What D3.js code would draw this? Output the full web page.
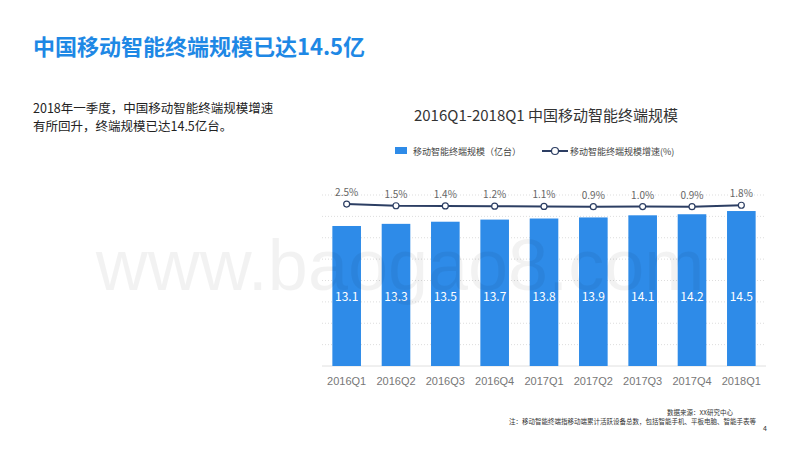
<!DOCTYPE html>
<html><head><meta charset="utf-8">
<script src="https://cdn.jsdelivr.net/npm/d3@7"></script>
<style>body{margin:0;background:#fff}svg{font-family:"Microsoft YaHei","Noto Sans CJK SC",sans-serif}</style>
</head><body><svg id="c" width="800" height="450"></svg>
<script>
const categories=["2016Q1","2016Q2","2016Q3","2016Q4","2017Q1","2017Q2","2017Q3","2017Q4","2018Q1"];
const scale=[13.1,13.3,13.5,13.7,13.8,13.9,14.1,14.2,14.5];
const growth=[2.5,1.5,1.4,1.2,1.1,0.9,1.0,0.9,1.8];
const yTicks=[0,2,4,6,8,10,12,14,16];

const svg=d3.select("#c");
svg.append("text").attr("x",33).attr("y",55).attr("font-size",22).attr("font-weight","bold").attr("fill","#1e88e5").text("中国移动智能终端规模已达14.5亿");
svg.append("text").attr("x",33).attr("y",113).attr("font-size",12.5).attr("fill","#222").text("2018年一季度，中国移动智能终端规模增速");
svg.append("text").attr("x",33).attr("y",131).attr("font-size",12.5).attr("fill","#222").text("有所回升，终端规模已达14.5亿台。");
svg.append("text").attr("x",546).attr("y",121).attr("text-anchor","middle").attr("font-size",15).attr("fill","#333").text("2016Q1-2018Q1 中国移动智能终端规模");

svg.append("rect").attr("x",395).attr("y",147).attr("width",12).attr("height",7).attr("fill","#2e8be8");
svg.append("text").attr("x",413).attr("y",155).attr("font-size",9).attr("fill","#444").text("移动智能终端规模（亿台）");
svg.append("line").attr("x1",542).attr("x2",568).attr("y1",151).attr("y2",151).attr("stroke","#2c3e63").attr("stroke-width",2);
svg.append("circle").attr("cx",555).attr("cy",151).attr("r",3.5).attr("fill","#fff").attr("stroke","#2c3e63").attr("stroke-width",1.2);
svg.append("text").attr("x",570).attr("y",155).attr("font-size",9).attr("fill","#444").text("移动智能终端规模增速(%)");

const x=d3.scaleBand().domain(categories).range([322,766]).paddingInner(0.42).paddingOuter(0.21);
const y=d3.scaleLinear().domain([0,16]).range([366,195]);
const y2=d3.scaleLinear().domain([-100,5]).range([372,200]);

svg.append("g").selectAll("line").data(yTicks.slice(1)).join("line")
 .attr("x1",322).attr("x2",766).attr("y1",d=>y(d)).attr("y2",d=>y(d))
 .attr("stroke","#ddd").attr("stroke-dasharray","1,2");
svg.append("line").attr("x1",322).attr("x2",766).attr("y1",366).attr("y2",366).attr("stroke","#e0e0e0");

svg.append("g").selectAll("rect").data(scale).join("rect")
 .attr("x",(d,i)=>x(categories[i])).attr("width",x.bandwidth())
 .attr("y",d=>y(d)).attr("height",d=>y(0)-y(d)).attr("fill","#2e8be8");
svg.append("g").selectAll("text").data(scale).join("text")
 .attr("x",(d,i)=>x(categories[i])+x.bandwidth()/2).attr("y",301).attr("text-anchor","middle")
 .attr("font-size",12).attr("fill","#fff").text(d=>d);

const cx=(i)=>x(categories[i])+x.bandwidth()/2;
svg.append("path").datum(growth).attr("fill","none").attr("stroke","#2c3e63").attr("stroke-width",2)
 .attr("d",d3.line().x((d,i)=>cx(i)).y(d=>y2(d)));
svg.append("g").selectAll("circle").data(growth).join("circle")
 .attr("cx",(d,i)=>cx(i)).attr("cy",d=>y2(d)).attr("r",3).attr("fill","#fff").attr("stroke","#2c3e63").attr("stroke-width",1.2);
svg.append("g").selectAll("text").data(growth).join("text")
 .attr("x",(d,i)=>cx(i)).attr("y",d=>y2(d)-8).attr("text-anchor","middle").attr("font-size",10).attr("fill","#666")
 .text(d=>d.toFixed(1)+"%");

const ax=svg.append("g").attr("transform","translate(0,370)").call(d3.axisBottom(x).tickSize(0));
ax.select(".domain").remove();
ax.selectAll("text").attr("font-size",11).attr("fill","#777").attr("dy","1.1em").attr("font-family","Liberation Sans, sans-serif");

svg.append("text").attr("x",400).attr("y",290).attr("text-anchor","middle").attr("font-size",72).attr("font-family","Liberation Sans, sans-serif")
 .attr("fill","#000").attr("fill-opacity",0.05).text("www.baogao8.com");

svg.append("text").attr("x",700).attr("y",415).attr("text-anchor","middle").attr("font-size",6.5).attr("fill","#333").text("数据来源：XX研究中心");
svg.append("text").attr("x",756).attr("y",424).attr("text-anchor","end").attr("font-size",6.5).attr("fill","#333").text("注：移动智能终端指移动端累计活跃设备总数，包括智能手机、平板电脑、智能手表等");
svg.append("text").attr("x",765).attr("y",431).attr("text-anchor","middle").attr("font-size",7).attr("fill","#333").text("4");
</script></body></html>
